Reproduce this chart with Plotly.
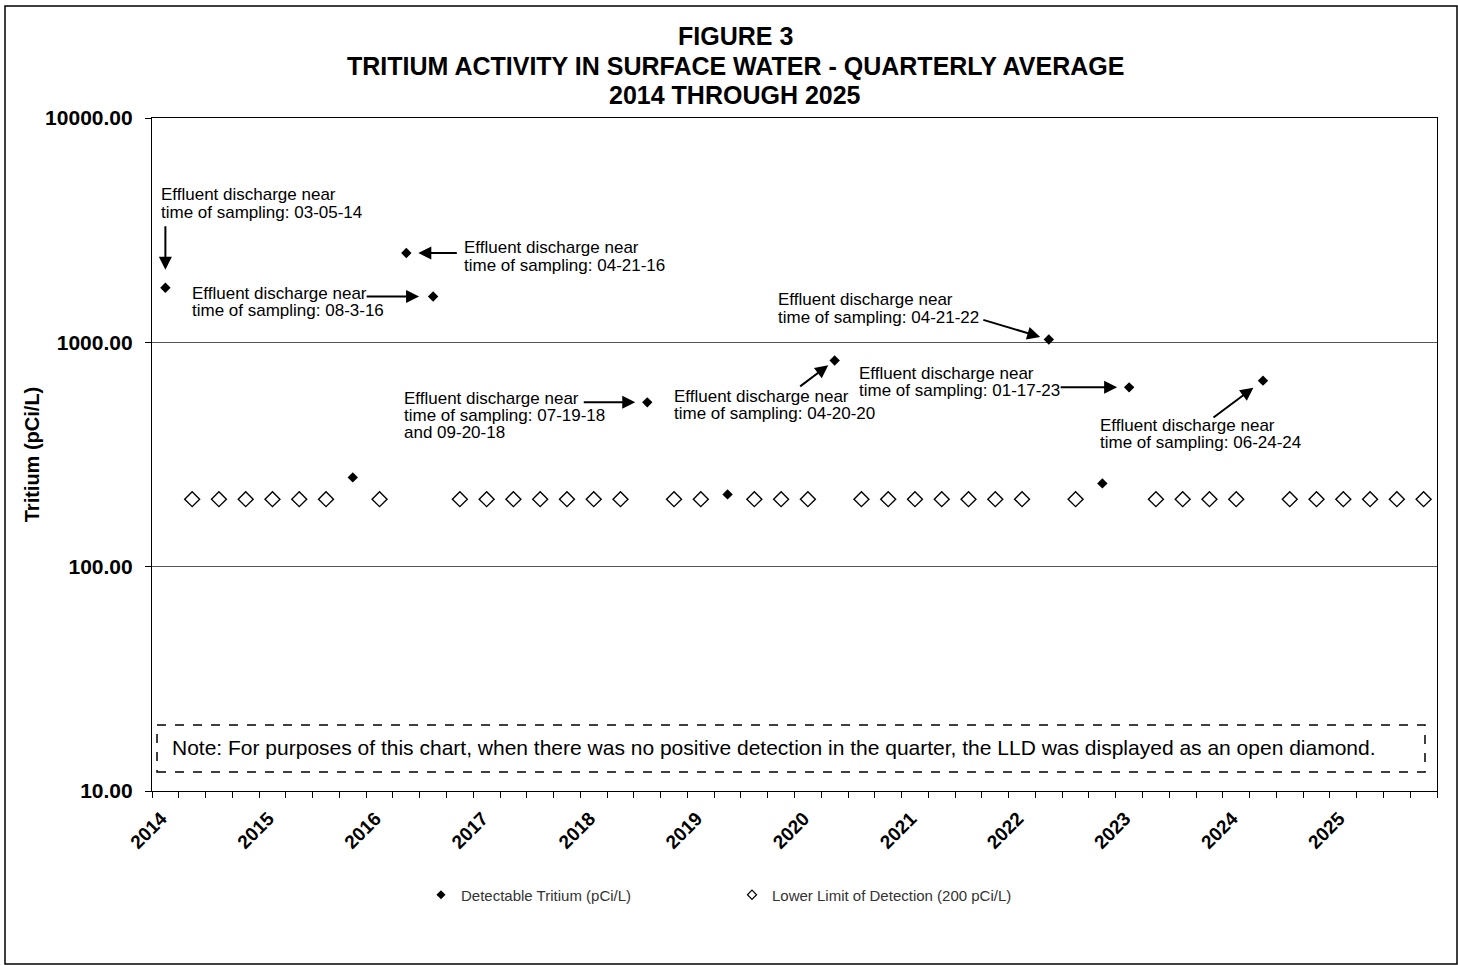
import numpy as np
import plotly.graph_objects as go

# ---------------- data ----------------
years = list(range(2014, 2026))
quarters = [f"{y} Q{q}" for y in years for q in range(1, 5)]

detect_quarters = ["2014 Q1", "2015 Q4", "2016 Q2", "2016 Q3", "2018 Q3", "2019 Q2",
                   "2020 Q2", "2022 Q2", "2022 Q4", "2023 Q1", "2024 Q2"]
detect_values = [1750, 250, 2500, 1600, 540, 210, 830, 1030, 235, 630, 675]
lld_value = 200

y_ticks = [10, 100, 1000, 10000]

title_lines = ["FIGURE 3", "TRITIUM ACTIVITY IN SURFACE WATER - QUARTERLY AVERAGE", "2014 THROUGH 2025"]

annot_quarters = ["2014 Q1", "2016 Q2", "2016 Q3", "2018 Q3", "2020 Q2", "2022 Q2", "2023 Q1", "2024 Q2"]
annot_texts = [
    ["Effluent discharge near", "time of sampling: 03-05-14"],
    ["Effluent discharge near", "time of sampling: 04-21-16"],
    ["Effluent discharge near", "time of sampling: 08-3-16"],
    ["Effluent discharge near", "time of sampling: 07-19-18", "and 09-20-18"],
    ["Effluent discharge near", "time of sampling: 04-20-20"],
    ["Effluent discharge near", "time of sampling: 04-21-22"],
    ["Effluent discharge near", "time of sampling: 01-17-23"],
    ["Effluent discharge near", "time of sampling: 06-24-24"],
]
note_text = ("Note: For purposes of this chart, when there was no positive detection in the quarter, "
             "the LLD was displayed as an open diamond.")

# ---------------- layout offsets (pixels) ----------------
text_xshift = [-6, 56, -243, -245, -163, -273, -272, -165]
text_yshift = [[93, 75], [6, -12], [3, -14], [4, -13, -30], [-36, -53], [40, 22], [14, -3], [-45, -62]]
arrow_ax = [0, 52, -68, -65, -36, -67, -70, -51]
arrow_ay = [-63, 0, 0, 0, 27, -20, 0, 38]
arrow_standoff = [18, 12, 14, 12, 8, 9, 12, 12]

FONT = "Liberation Sans, Arial, sans-serif"
W, H = 1458, 965
L, R, T, B = 152, 21, 118, 174
PW, PH = W - L - R, H - T - B


def px(xp):
    return (xp - L) / PW


def py(yp):
    return (H - B - yp) / PH


det_idx = [quarters.index(q) for q in detect_quarters]
det_map = dict(zip(detect_quarters, detect_values))
lld_x = [i for i, q in enumerate(quarters) if q not in det_map]
lld_y = [lld_value] * len(lld_x)

fig = go.Figure()
fig.add_trace(go.Scatter(x=lld_x, y=lld_y, mode="markers", showlegend=False,
                         marker=dict(symbol="diamond-open", size=11.5, color="black",
                                     line=dict(width=1.4, color="black"))))
fig.add_trace(go.Scatter(x=det_idx, y=detect_values, mode="markers", showlegend=False,
                         marker=dict(symbol="diamond", size=8, color="black")))
# legend entries
fig.add_trace(go.Scatter(x=[None], y=[None], mode="markers", name="Detectable Tritium (pCi/L)",
                         marker=dict(symbol="diamond", size=7, color="black")))
fig.add_trace(go.Scatter(x=[None], y=[None], mode="markers", name="Lower Limit of Detection (200 pCi/L)",
                         marker=dict(symbol="diamond-open", size=7, color="black",
                                     line=dict(width=1.2, color="black"))))

annotations = []
for i, q in enumerate(annot_quarters):
    k = quarters.index(q)
    yv = np.log10(det_map[q])
    for line, ys in zip(annot_texts[i], text_yshift[i]):
        annotations.append(dict(x=k, y=yv, xref="x", yref="y", text=line, showarrow=False,
                                xanchor="left", yanchor="middle", xshift=text_xshift[i], yshift=ys,
                                font=dict(family=FONT, size=17, color="black")))
    annotations.append(dict(x=k, y=yv, xref="x", yref="y", text="", showarrow=True,
                            ax=arrow_ax[i], ay=arrow_ay[i], arrowhead=2, arrowsize=1.3,
                            arrowwidth=2, arrowcolor="black", standoff=arrow_standoff[i]))

# title lines
for line, yp in zip(title_lines, [36, 65.5, 95]):
    annotations.append(dict(x=px(735), y=py(yp), xref="paper", yref="paper", text=f"<b>{line}</b>",
                            showarrow=False, xanchor="center", yanchor="middle",
                            font=dict(family=FONT, size=25, color="black")))

# note
annotations.append(dict(x=px(170), y=py(747), xref="paper", yref="paper", text=note_text,
                        showarrow=False, xanchor="left", yanchor="middle",
                        font=dict(family=FONT, size=21, color="black")))

shapes = [
    dict(type="rect", xref="paper", yref="paper",
         x0=px(157), x1=px(1425), y0=py(772), y1=py(725),
         line=dict(color="black", width=1.5, dash="dash"), fillcolor="rgba(0,0,0,0)"),
    dict(type="rect", xref="paper", yref="paper",
         x0=px(5), x1=px(1457), y0=py(964), y1=py(6),
         line=dict(color="black", width=1.5), fillcolor="rgba(0,0,0,0)", layer="below"),
]

fig.update_layout(
    width=W, height=H,
    margin=dict(l=L, r=R, t=T, b=B),
    paper_bgcolor="white", plot_bgcolor="white",
    font=dict(family=FONT, color="black"),
    showlegend=True,
    legend=dict(orientation="h", x=px(421), xanchor="left",
                y=py(895), yanchor="middle", itemwidth=30,
                entrywidth=266, entrywidthmode="pixels",
                font=dict(family=FONT, size=15, color="#333333"), bgcolor="rgba(0,0,0,0)"),
    annotations=annotations,
    shapes=shapes,
)

fig.update_xaxes(
    range=[-0.5, len(quarters) - 0.5],
    tickmode="array",
    tickvals=[quarters.index(f"{y} Q1") for y in years],
    ticktext=[f"<b>{y}</b>" for y in years],
    tickangle=-45,
    ticks="",
    ticklabelstandoff=8, ticklabelshift=-4,
    tickfont=dict(family=FONT, size=19, color="black"),
    showgrid=False, zeroline=False,
    showline=True, linecolor="black", linewidth=1.2, mirror=True,
    minor=dict(tickmode="array", tickvals=[i - 0.5 for i in range(len(quarters) + 1)],
               ticks="outside", ticklen=6, tickcolor="black", tickwidth=1, showgrid=False),
)
fig.update_yaxes(
    type="log", range=[1, 4],
    tickmode="array", tickvals=y_ticks, ticktext=[f"<b>{v:.2f}</b>" for v in y_ticks],
    ticks="outside", ticklen=6, tickcolor="black",
    ticklabelstandoff=8,
    tickfont=dict(family=FONT, size=21, color="black"),
    showgrid=True, gridcolor="#555555", gridwidth=1,
    showline=True, linecolor="black", linewidth=1.2, mirror=True, zeroline=False,
    title=dict(text="<b>Tritium (pCi/L)</b>", font=dict(family=FONT, size=20, color="black"), standoff=0),
)

fig.write_html("out.html", config={"displayModeBar": False},
               post_script="document.body.style.margin='0';")
